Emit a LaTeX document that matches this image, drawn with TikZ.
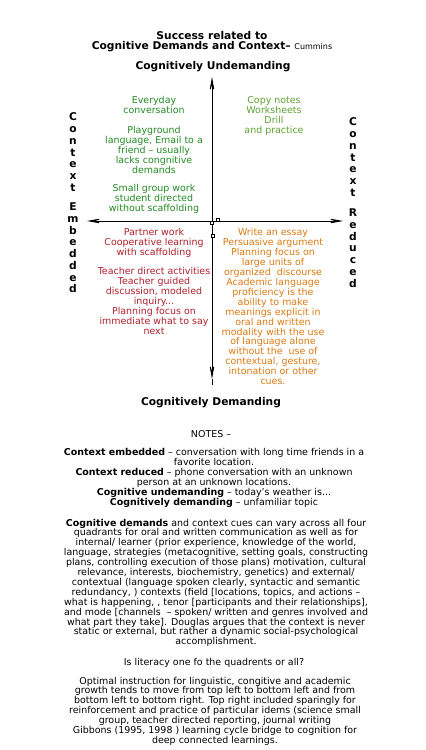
\documentclass[tikz,border=0pt]{standalone}
\usepackage{fontspec}
\setmainfont{DejaVu Sans}
\usetikzlibrary{arrows.meta}
\definecolor{tlgreen}{HTML}{238B23}
\definecolor{trgreen}{HTML}{5EA232}
\definecolor{blred}{HTML}{B0202C}
\definecolor{brorange}{HTML}{DB7A12}
\newcommand{\tightlinesx}{\setlength{\lineskiplimit}{-10pt}}
\begin{document}
\begin{tikzpicture}[x=0.75pt,y=-0.75pt,
  txt/.style={inner sep=0pt, outer sep=0pt, align=center, anchor=north, font={\fontsize{7.1}{7.43}\selectfont\tightlinesx}},
  line/.style={inner sep=0pt, outer sep=0pt, anchor=base, font=\fontsize{7.1}{7.43}\selectfont},
  heading/.style={inner sep=0pt, outer sep=0pt, anchor=base, font=\bfseries\fontsize{8}{7.9}\selectfont},
  letters/.style={inner sep=0pt, outer sep=0pt, align=center, anchor=north, font=\bfseries\fontsize{8}{8.8}\selectfont},
  axis/.style={line width=0.7pt, black},
  axisarrow/.style={-{Stealth[length=15pt,width=5.5pt,inset=9pt]}},
  handle/.style={draw, line width=0.4pt, inner sep=0pt, minimum size=2.4pt, fill=white}
]
\fill[white] (0,0) rectangle (425,750);
\useasboundingbox (0,0) rectangle (425,750);

% titles
\node[txt, font=\bfseries\fontsize{8}{7.9}\selectfont] (title) at (212,31)
  {Success related to\\Cognitive Demands and Context– {\mdseries\fontsize{6}{7}\selectfont Cummins}};
\node[heading] (undem) at (213,69) {Cognitively Undemanding};
\node[heading] (dem) at (211,405) {Cognitively Demanding};

% axes
\coordinate (vtop) at (212,77);
\coordinate (vmid) at (212,221);
\coordinate (vtip) at (212,379);
\coordinate (vbot) at (212,385);
\coordinate (hl) at (87,221);
\coordinate (hr) at (343,221);
\draw[axis, axisarrow] (vmid) -- (vtop);
\draw[axis, axisarrow] (vmid) -- (vtip);
\draw[axis] (vtip) -- (vbot);
\draw[axis, axisarrow] (vmid) -- (hl);
\draw[axis, axisarrow] (vmid) -- (hr);
\node[handle] (h1) at (212,223) {};
\node[handle] (h2) at (218,220) {};
\node[handle] (h3) at (213,236) {};

% side labels
\node[letters] (ctxL) at (73,113) {C\\o\\n\\t\\e\\x\\t};
\node[letters] (embL) at (73,203) {E\\m\\b\\e\\d\\d\\e\\d};
\node[letters] (ctxR) at (353,118) {C\\o\\n\\t\\e\\x\\t};
\node[letters] (redR) at (353,209) {R\\e\\d\\u\\c\\e\\d};

% quadrant texts
\node[txt, text=tlgreen] (tl1) at (154,96.8) {Everyday\\conversation};
\node[txt, text=tlgreen] (tl2) at (154,126.8) {Playground\\language, Email to a\\friend – usually\\lacks congnitive\\demands};
\node[txt, text=tlgreen] (tl3) at (154,184.8) {Small group work\\student directed\\without scaffolding};
\node[txt, text=trgreen] (tr) at (274,96.8) {Copy notes\\Worksheets\\Drill\\and practice};
\node[txt, text=blred] (bl1) at (154,228.8) {Partner work\\Cooperative learning\\with scaffolding};
\node[txt, text=blred] (bl2) at (154,267.8) {Teacher direct activities\\Teacher guided\\discussion, modeled\\inquiry...\\Planning focus on\\immediate what to say\\next};
\node[txt, text=brorange] (br) at (273,228.8) {Write an essay\\Persuasive argument\\Planning focus on\\large units of\\organized~~discourse\\Academic language\\proficiency is the\\ability to make\\meanings explicit in\\oral and written\\modality with the use\\of language alone\\without the~~use of\\contextual, gesture,\\intonation or other\\cues.};

% notes
\node[line] (notes) at (211,437) {NOTES –};
\node[txt] (n1) at (214,448.8)
  {\textbf{Context embedded} – conversation with long time friends in a\\favorite location.\\\textbf{Context reduced} – phone conversation with an unknown\\person at an unknown locations.\\\textbf{Cognitive undemanding} – today's weather is...\\\textbf{Cognitively demanding} – unfamiliar topic};
\node[txt] (n2) at (216,518.8)
  {\textbf{Cognitive demands} and context cues can vary across all four\\quadrants for oral and written communication as well as for\\internal/ learner (prior experience, knowledge of the world,\\language, strategies (metacognitive, setting goals, constructing\\plans, controlling execution of those plans) motivation, cultural\\relevance, interests, biochemistry, genetics) and external/\\contextual (language spoken clearly, syntactic and semantic\\redundancy, ) contexts (field {[}locations, topics, and actions –\\what is happening, , tenor {[}participants and their relationships{]},\\and mode {[}channels~~– spoken/ written and genres involved and\\what part they take{]}. Douglas argues that the context is never\\static or external, but rather a dynamic social-psychological\\accomplishment.};
\node[line] (lit) at (214,665) {Is literacy one fo the quadrents or all?};
\node[txt] (n4) at (215,676.8)
  {Optimal instruction for linguistic, congitive and academic\\growth tends to move from top left to bottom left and from\\bottom left to bottom right. Top right included sparingly for\\reinforcement and practice of particular idems (science small\\group, teacher directed reporting, journal writing\\Gibbons (1995, 1998 ) learning cycle bridge to cognition for\\deep connected learnings.};
\end{tikzpicture}
\end{document}
